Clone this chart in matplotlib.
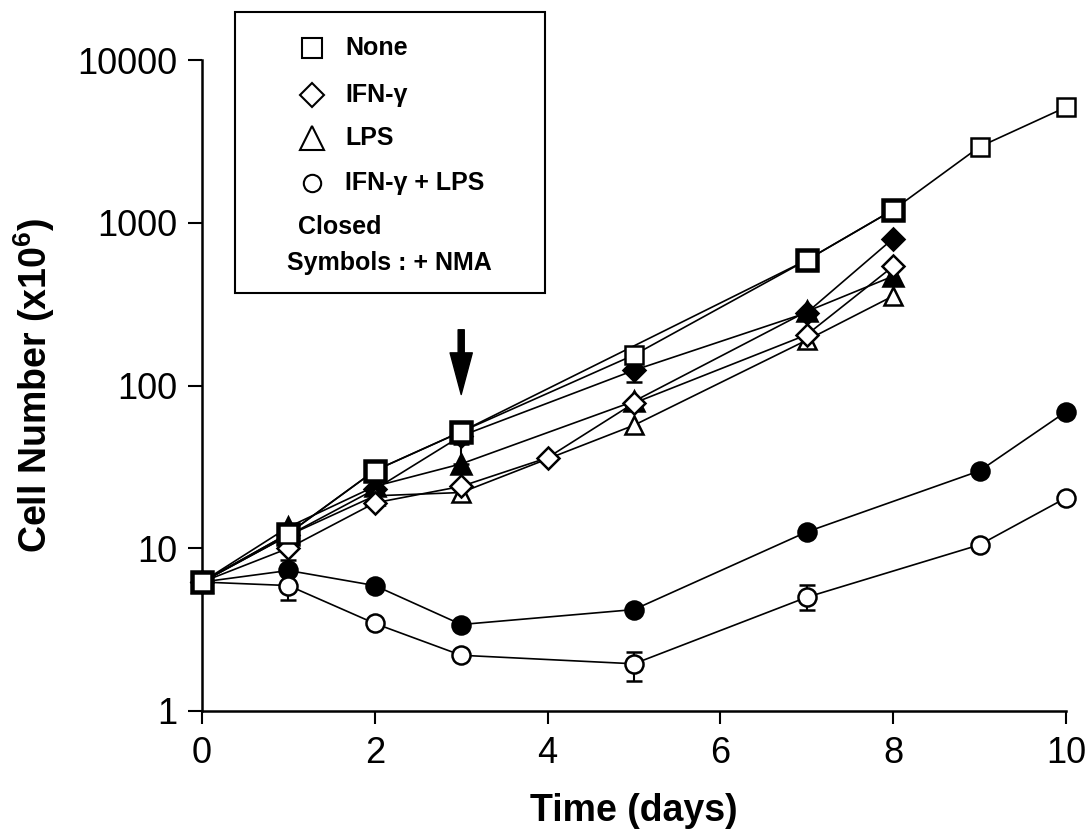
import numpy as np
import matplotlib
matplotlib.use('Agg')
import matplotlib.pyplot as plt
from matplotlib.patches import Rectangle
from matplotlib.lines import Line2D

plt.rcParams['font.family'] = ['Liberation Sans', 'DejaVu Sans']
plt.rcParams['mathtext.fontset'] = 'custom'
plt.rcParams['mathtext.rm'] = 'Liberation Sans'
plt.rcParams['mathtext.bf'] = 'Liberation Sans:bold'

### DATA ######################################################################
# open symbols: no NMA, closed symbols: + NMA
days_none     = [0, 1, 2, 3, 5, 7, 8, 9, 10]
none          = [6.2, 12.3, 30, 52, 154, 590, 1200, 2930, 5130]
none_lo       = [0, 0, 0, 0, 0, 0, 0, 0, 0]
none_hi       = [0, 0, 0, 8, 0, 0, 0, 0, 0]

days_none_nma = [0, 1, 2, 3, 7, 8]
none_nma      = [6.2, 12.3, 30, 52, 590, 1200]

days_ifn      = [0, 1, 2, 3, 4, 5, 7, 8]
ifn           = [6.2, 10, 19, 24, 36, 78, 205, 540]

days_ifn_nma  = [0, 1, 2, 3, 5, 7, 8]
ifn_nma       = [6.2, 12, 23, 49, 124, 280, 800]
ifn_nma_lo    = [0, 0, 0, 0, 19, 0, 0]
ifn_nma_hi    = [0, 0, 0, 0, 0, 0, 0]

days_lps      = [0, 1, 2, 3, 5, 7, 8]
lps           = [6.2, 12, 21, 22, 57, 190, 355]
lps_nma       = [6.2, 13.5, 24, 33, 80, 285, 470]
lps_nma_lo    = [0, 0, 0, 0, 0, 0, 0]
lps_nma_hi    = [0, 0, 0, 11, 0, 0, 0]

days_both     = [0, 1, 2, 3, 5, 7, 9, 10]
both          = [6.2, 5.9, 3.45, 2.2, 1.95, 5.0, 10.5, 20.4]
both_lo       = [0, 1.1, 0, 0, 0.42, 0.8, 0, 0]
both_hi       = [0, 0, 0, 0, 0.35, 0.95, 0, 0]
both_nma      = [6.2, 7.3, 5.9, 3.4, 4.2, 12.6, 29.9, 69]
both_nma_lo   = [0, 0, 0, 0, 0, 0, 0, 0]
both_nma_hi   = [0, 1.2, 0, 0, 0, 0, 0, 0]

xticks = [0, 2, 4, 6, 8, 10]
yticks = [1, 10, 100, 1000, 10000]
ytlabels = ['1', '10', '100', '1000', '10000']

### PLOT ######################################################################
W, H = 1092, 840
fig = plt.figure(figsize=(W/100, H/100), dpi=100)
ax = fig.add_axes([202/W, 1-711/H, 864/W, 651/H])

lw = 1.2
mew = 1.8

def series(x, y, marker, ms, filled, lo=None, hi=None, z=2):
    x = np.array(x); y = np.array(y)
    if lo is not None:
        lo = np.array(lo, float); hi = np.array(hi, float)
        m = (lo > 0) | (hi > 0)
        ax.errorbar(x[m], y[m], yerr=[lo[m], hi[m]], fmt='none', ecolor='black',
                    elinewidth=1.5, capsize=5.5, capthick=1.8, zorder=z-0.1)
    ax.plot(x, y, color='black', linewidth=lw, marker=marker, markersize=ms,
            markerfacecolor='black' if filled else 'white',
            markeredgecolor='black', markeredgewidth=mew, zorder=z, clip_on=False)

# closed symbols first, open ones on top
series(days_ifn_nma, ifn_nma, 'D', 11, True, ifn_nma_lo, ifn_nma_hi, z=2)
series(days_lps, lps_nma, '^', 14, True, lps_nma_lo, lps_nma_hi, z=2.1)
series(days_none_nma, none_nma, 's', 16, True, z=2.2)
series(days_both, both_nma, 'o', 13, True, both_nma_lo, both_nma_hi, z=2.3)
series(days_lps, lps, '^', 13, False, z=3)
series(days_ifn, ifn, 'D', 11, False, z=3.1)
series(days_both, both, 'o', 13, False, both_lo, both_hi, z=3.2)
series(days_none, none, 's', 12.5, False, none_lo, none_hi, z=3.3)

# arrow at day 3
ax.annotate('', xy=(3, 88), xytext=(3, 220),
            arrowprops=dict(arrowstyle='simple,head_width=0.8,head_length=1.5,tail_width=0.22',
                            mutation_scale=20, color='black', shrinkA=0, shrinkB=0))

ax.set_yscale('log')
ax.set_xlim(0, 10)
ax.set_ylim(1, 10000)
ax.set_xticks(xticks)
ax.set_xticklabels([str(t) for t in xticks])
ax.set_yticks(yticks)
ax.set_yticklabels(ytlabels)
ax.yaxis.set_minor_locator(matplotlib.ticker.NullLocator())
for s in ['top', 'right']:
    ax.spines[s].set_visible(False)
for s in ['left', 'bottom']:
    ax.spines[s].set_linewidth(1.8)
ax.tick_params(axis='both', direction='out', length=10, width=1.5, labelsize=26, pad=8)
ax.tick_params(axis='x', length=9, pad=9)

ax.set_xlabel('Time (days)', fontsize=27, fontweight='bold', labelpad=16)
ax.set_ylabel('Cell Number (x10$^{\\mathbf{6}}$)', fontsize=27, fontweight='bold')
ax.yaxis.set_label_coords(-0.168, 0.5)

# legend box (figure pixels)
def fx(px): return px / W
def fy(py): return 1 - py / H

fig.add_artist(Rectangle((fx(235), fy(293)), fx(545) - fx(235), fy(12) - fy(293),
                         transform=fig.transFigure, facecolor='white',
                         edgecolor='black', linewidth=1.5, zorder=10))
leg = [('s', 15, 'None', 48), ('D', 12, 'IFN-\u03b3', 95),
       ('^', 17, 'LPS', 138), ('o', 12.5, 'IFN-\u03b3 + LPS', 183)]
for mk, ms, lab, py in leg:
    fig.add_artist(Line2D([fx(312)], [fy(py)], transform=fig.transFigure, marker=mk,
                          markersize=ms, markerfacecolor='white', markeredgecolor='black',
                          markeredgewidth=1.5, linestyle='none', zorder=11))
    fig.text(fx(345), fy(py), lab, fontsize=18, fontweight='bold', va='center',
             ha='left', zorder=11)
fig.text(fx(298), fy(227), 'Closed', fontsize=18, fontweight='bold', va='center', zorder=11)
fig.text(fx(287), fy(263), 'Symbols : + NMA', fontsize=18, fontweight='bold', va='center', zorder=11)

fig.savefig('out.png', dpi=100)
